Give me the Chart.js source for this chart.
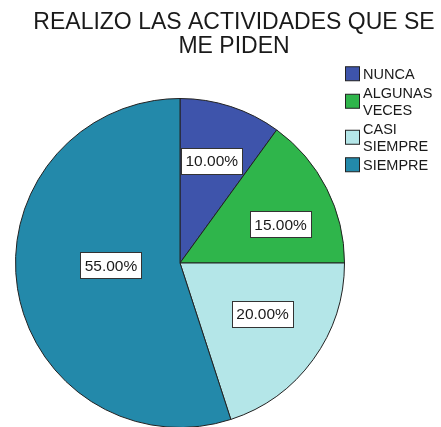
<!DOCTYPE html>
<html>
<head>
<meta charset="utf-8">
<script src="https://cdn.jsdelivr.net/npm/chart.js@4"></script>
<style>
  html, body { margin: 0; padding: 0; background: #fff; overflow: hidden; }
  canvas { display: block; }
</style>
</head>
<body>
<canvas id="pieChart" width="441" height="460"></canvas>
<script>
// Chart data
const titleLines = ['REALIZO LAS ACTIVIDADES QUE SE', 'ME PIDEN'];
const categories = ['NUNCA', 'ALGUNAS VECES', 'CASI SIEMPRE', 'SIEMPRE'];
const legendLines = [['NUNCA'], ['ALGUNAS', 'VECES'], ['CASI', 'SIEMPRE'], ['SIEMPRE']];
const percentages = [10, 15, 20, 55];
const sliceColors = ['#3e54ab', '#2fb54b', '#b4e6e8', '#2389aa'];

// label placement inside each slice: fraction of radius, fraction along the arc
const labelRadius = [0.65, 0.655, 0.59, 0.42];
const labelAlong = [0.48, 0.61, 0.44, 0.535];
const fontFamily = '"Liberation Sans", Arial, sans-serif';

// Title, legend and value boxes drawn on top of the pie
const decorPlugin = {
  id: 'decor',
  afterDraw(chart) {
    const ctx = chart.ctx;
    ctx.save();

    // title
    ctx.fillStyle = '#1a1a1a';
    ctx.font = '23px ' + fontFamily;
    ctx.textAlign = 'center';
    ctx.textBaseline = 'alphabetic';
    ctx.fillText(titleLines[0], 234, 29);
    ctx.fillText(titleLines[1], 234, 53);

    // legend
    ctx.font = '14.5px ' + fontFamily;
    ctx.textAlign = 'left';
    const lineH = 17;
    let baseline = 79;
    legendLines.forEach((lines, i) => {
      const first = baseline;
      lines.forEach((line, j) => {
        ctx.fillStyle = '#1a1a1a';
        ctx.fillText(line, 363, baseline);
        if (j < lines.length - 1) baseline += lineH;
      });
      const mid = (first - 10.5 + baseline) / 2;
      ctx.fillStyle = sliceColors[i];
      ctx.fillRect(345.5, mid - 7, 14, 14);
      ctx.strokeStyle = '#222';
      ctx.lineWidth = 1;
      ctx.strokeRect(345.5, mid - 7, 14, 14);
      baseline += lineH + 2;
    });

    // percentage boxes
    const arcs = chart.getDatasetMeta(0).data;
    ctx.font = '15.5px ' + fontFamily;
    ctx.textAlign = 'center';
    ctx.textBaseline = 'middle';
    arcs.forEach((arc, i) => {
      const p = arc.getProps(['x', 'y', 'startAngle', 'endAngle', 'outerRadius'], true);
      const a = p.startAngle + (p.endAngle - p.startAngle) * labelAlong[i];
      const r = p.outerRadius * labelRadius[i];
      const cx = p.x + Math.cos(a) * r;
      const cy = p.y + Math.sin(a) * r;
      const text = percentages[i].toFixed(2) + '%';
      const w = Math.round(ctx.measureText(text).width) + 8;
      const h = 26;
      const bx = Math.round(cx - w / 2) + 0.5;
      const by = Math.round(cy - h / 2) + 0.5;
      ctx.fillStyle = '#fff';
      ctx.fillRect(bx, by, w, h);
      ctx.strokeStyle = '#333';
      ctx.strokeRect(bx, by, w, h);
      ctx.fillStyle = '#1a1a1a';
      ctx.fillText(text, cx, cy + 1);
    });

    ctx.restore();
  }
};

new Chart(document.getElementById('pieChart'), {
  type: 'pie',
  data: {
    labels: categories,
    datasets: [
      {
        data: percentages,
        backgroundColor: sliceColors,
        borderColor: '#222',
        borderWidth: 1,
      },
    ],
  },
  options: {
    responsive: false,
    animation: false,
    layout: {
      padding: { left: 15, right: 96, top: 98, bottom: 32 },
    },
    plugins: {
      legend: { display: false },
      title: { display: false },
      tooltip: { enabled: false },
    },
  },
  plugins: [decorPlugin],
});
</script>
</body>
</html>
